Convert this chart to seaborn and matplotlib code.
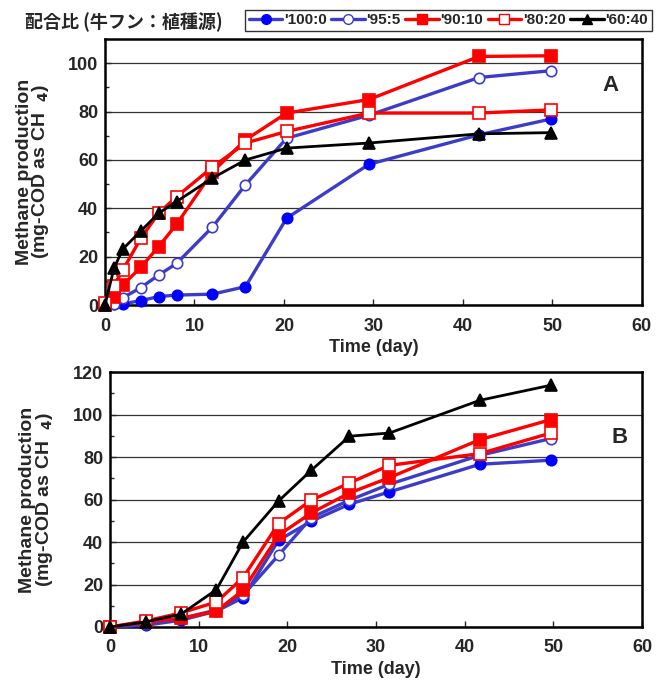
import numpy as np
import pandas as pd
import matplotlib

matplotlib.use("Agg")
import matplotlib.pyplot as plt
import seaborn as sns
from matplotlib.lines import Line2D

# series labels (cow manure : seed sludge)
series_names = ["'100:0", "'95:5", "'90:10", "'80:20", "'60:40"]

# panel A
days_a = [0, 1, 2, 4, 6, 8, 12, 15.7, 20.3, 29.5, 41.8, 49.8]
a_100_0 = [0, 0.3, 0.5, 1.8, 3.5, 4.1, 4.5, 7.6, 35.9, 58.2, 70.4, 76.9]
a_95_5 = [0, 0.5, 3.0, 7.2, 12.4, 17.2, 32.2, 49.7, 69.0, 78.5, 94.1, 96.9]
a_90_10 = [0, 3.5, 8.3, 15.6, 24.2, 33.4, 55.0, 68.3, 79.4, 85.0, 102.8, 103.1]
a_80_20 = [1.0, 7.9, 14.5, 27.6, 38.0, 44.8, 57.0, 67.0, 71.8, 79.4, 79.4, 80.7]
a_60_40 = [0, 15.2, 23.2, 30.6, 38.0, 42.8, 52.5, 60.0, 64.9, 67.0, 70.8, 71.3]

# panel B
days_b = [0, 4, 8, 12, 15, 19, 22.7, 27, 31.5, 41.7, 49.7]
b_100_0 = [0, 0.8, 3.2, 7.5, 13.8, 40.8, 49.8, 57.8, 63.6, 76.6, 78.5]
b_95_5 = [0, 1.5, 4.0, 8.0, 15.0, 33.8, 51.5, 59.7, 67.2, 80.8, 88.7]
b_90_10 = [0, 2.4, 4.0, 7.5, 17.3, 43.2, 53.7, 63.1, 70.3, 88.2, 97.6]
b_80_20 = [0, 2.8, 6.6, 11.8, 23.2, 48.7, 59.7, 67.8, 76.1, 81.6, 91.3]
b_60_40 = [0, 2.4, 6.0, 17.6, 40.0, 59.3, 73.8, 89.8, 91.3, 106.7, 113.8]

styles = {
    "'100:0": dict(color="#3c3cc8", marker="o", mfc="#0000ff", mec="#0000ff"),
    "'95:5": dict(color="#3c3cc8", marker="o", mfc="white", mec="#3c3cc8"),
    "'90:10": dict(color="#ff0000", marker="s", mfc="#ff0000", mec="#ff0000"),
    "'80:20": dict(color="#ff0000", marker="s", mfc="white", mec="#ff0000"),
    "'60:40": dict(color="black", marker="^", mfc="black", mec="black"),
}

FONT = "Liberation Sans"

sns.set_style("white")
plt.rcParams["font.family"] = [FONT, "DejaVu Sans"]
plt.rcParams["font.weight"] = "bold"


def long_table(days, values):
    rows = []
    for name, vals in zip(series_names, values):
        for d, v in zip(days, vals):
            rows.append({"day": d, "methane": v, "ratio": name})
    return pd.DataFrame(rows)


def draw_panel(ax, df, ymax, ytop, tag, tag_xy, ylab_x):
    for name in series_names:
        st = styles[name]
        sub = df[df["ratio"] == name]
        sns.lineplot(
            data=sub,
            x="day",
            y="methane",
            ax=ax,
            color=st["color"],
            linewidth=2.4 if st["color"] != "black" else 2.0,
            marker=st["marker"],
            markersize=8 if st["marker"] != "o" else 7.5,
            markerfacecolor=st["mfc"],
            markeredgecolor=st["mec"],
            markeredgewidth=1.2,
            sort=False,
            estimator=None,
            legend=False,
            clip_on=False,
            zorder=3,
        )
    ax.set_xlim(0, 60)
    ax.set_ylim(0, ymax)
    ax.set_xticks(np.arange(0, 61, 10))
    ax.set_yticks(np.arange(0, ytop + 1, 20))
    ax.set_yticks(np.arange(10, ymax, 20), minor=True)
    ax.yaxis.grid(True, color="#333333", linewidth=0.9)
    ax.set_axisbelow(True)
    ax.tick_params(direction="in", length=4, width=1, labelsize=13)
    ax.tick_params(axis="y", which="minor", direction="in", length=3, width=1, left=True)
    ax.tick_params(axis="x", bottom=True, pad=9)
    ax.tick_params(axis="y", left=True, pad=5)
    for lab in ax.get_xticklabels() + ax.get_yticklabels():
        lab.set_fontweight("bold")
    for sp in ax.spines.values():
        sp.set_linewidth(1.8)
        sp.set_color("black")
    ax.set_xlabel("Time (day)", fontsize=13, fontweight="bold", labelpad=3)
    ax.set_ylabel(
        "Methane production\n(mg-COD as CH  $_{4}$)",
        fontsize=14,
        fontweight="bold",
        linespacing=0.85,
    )
    ax.yaxis.set_label_coords(ylab_x, 0.5)
    ax.text(tag_xy[0], tag_xy[1], tag, transform=ax.transAxes, fontsize=16,
            fontweight="bold", ha="center", va="center")


df_a = long_table(days_a, [a_100_0, a_95_5, a_90_10, a_80_20, a_60_40])
df_b = long_table(days_b, [b_100_0, b_95_5, b_90_10, b_80_20, b_60_40])

fig = plt.figure(figsize=(6.71, 6.89), dpi=100)
ax_a = fig.add_axes([0.1565, 0.5573, 0.800, 0.386])
ax_b = fig.add_axes([0.164, 0.090, 0.793, 0.370])

draw_panel(ax_a, df_a, 110, 100, "A", (0.942, 0.827), -0.100)
draw_panel(ax_b, df_b, 120, 120, "B", (0.957, 0.745), -0.103)

fig.text(0.037, 0.968, "配合比 (牛フン：植種源)", fontsize=13, fontweight="bold",
         family=["Noto Sans CJK JP", "DejaVu Sans"], ha="left", va="center")

handles = []
for name in series_names:
    st = styles[name]
    handles.append(
        Line2D([], [], color=st["color"], linewidth=2.4, marker=st["marker"],
               markersize=7, markerfacecolor=st["mfc"], markeredgecolor=st["mec"])
    )
leg = fig.legend(
    handles,
    series_names,
    ncol=5,
    loc="upper left",
    bbox_to_anchor=(0.365, 0.986),
    frameon=True,
    fancybox=False,
    handlelength=2.2,
    handletextpad=0.1,
    columnspacing=0.3,
    borderpad=0.25,
    borderaxespad=0,
    prop={"family": FONT, "weight": "bold", "size": 11},
)
leg.get_frame().set_edgecolor("black")
leg.get_frame().set_linewidth(1.0)

fig.savefig("out.png", dpi=100)
